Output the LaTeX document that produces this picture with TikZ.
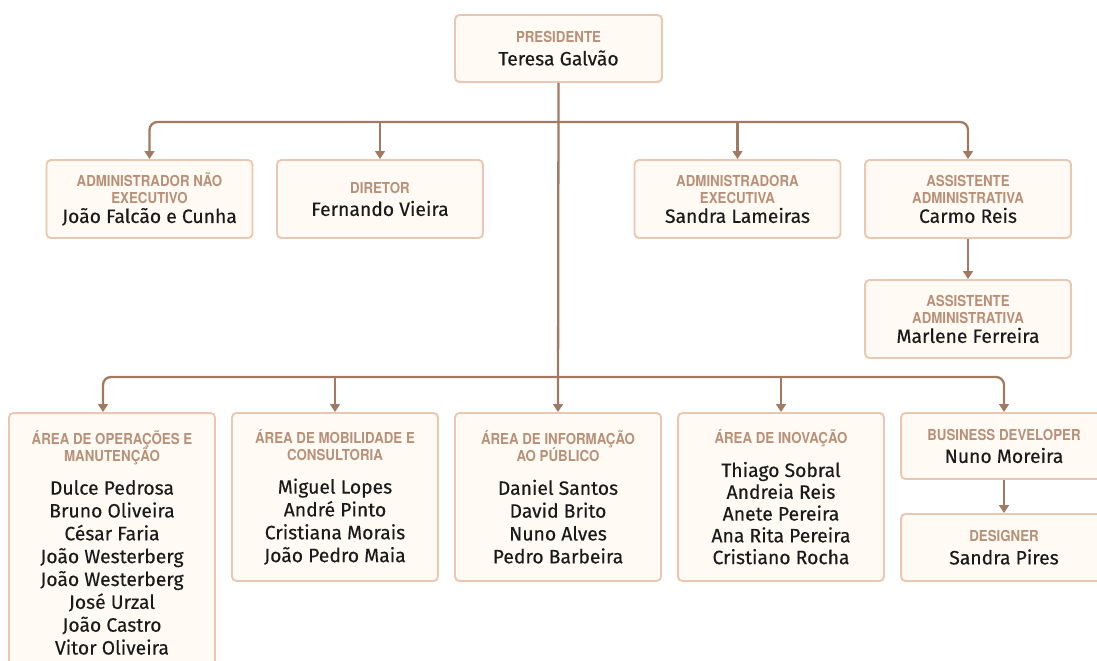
\documentclass[tikz,border=0pt]{standalone}
\usepackage{fontspec}
\setmainfont{Fira Sans}[FakeBold=0.3]
\newfontfamily\headfont{TeX Gyre Heros}[FakeStretch=0.88]
\usetikzlibrary{positioning,arrows.meta}
\definecolor{linebrown}{HTML}{A07A62}
\definecolor{boxedge}{HTML}{E8C8B2}
\definecolor{boxfill}{HTML}{FFFBF4}
\definecolor{headbrown}{HTML}{B89078}
\definecolor{nameink}{HTML}{1A1A1A}
\newcommand{\rolehd}{\headfont\bfseries\fontsize{8.6}{10}\selectfont\color{headbrown}}

\begin{document}
\begin{tikzpicture}[x=0.02cm, y=-0.02cm,
  >={Triangle[width=5.5pt,length=4.5pt]},
  rolebox/.style={draw=boxedge, line width=1.1pt, fill=boxfill, rounded corners=2.5pt,
    minimum width=4.12cm, align=center, text=nameink, inner sep=2pt,
    font=\fontsize{11}{13}\selectfont},
  link/.style={draw=linebrown, line width=1.3pt, ->, rounded corners=4.5pt}]
\useasboundingbox (0,0) rectangle (1097,660);
\clip (0,0) rectangle (1097,660);
\fill[white] (0,0) rectangle (1097,660);

% presidente
\node[rolebox, minimum height=1.34cm, minimum width=4.14cm] (pres) at (558.5,48.5) {{\rolehd PRESIDENTE}\\Teresa Galvão};

% primeiro nivel
\node[rolebox, minimum height=1.56cm] (admin) at (149.5,199) {{\rolehd ADMINISTRADOR NÃO}\\[-3.3pt]{\rolehd EXECUTIVO}\\[-1.8pt]João Falcão e Cunha};
\node[rolebox, minimum height=1.56cm] (dir) at (380,199) {{\rolehd DIRETOR}\\Fernando Vieira};
\node[rolebox, minimum height=1.56cm] (exec) at (737.5,199) {{\rolehd ADMINISTRADORA}\\[-3.3pt]{\rolehd EXECUTIVA}\\[-1.8pt]Sandra Lameiras};
\node[rolebox, minimum height=1.56cm] (asst) at (968,199) {{\rolehd ASSISTENTE}\\[-3.3pt]{\rolehd ADMINISTRATIVA}\\[-1.8pt]Carmo Reis};
\node[rolebox, minimum height=1.56cm] (asst2) at (968,319) {{\rolehd ASSISTENTE}\\[-3.3pt]{\rolehd ADMINISTRATIVA}\\[-1.8pt]Marlene Ferreira};

% areas
\node[rolebox, minimum height=5.18cm] (oper) at (112,542.5) {{\rolehd ÁREA DE OPERAÇÕES E}\\[-3.3pt]{\rolehd MANUTENÇÃO}\\[6pt]Dulce Pedrosa\\Bruno Oliveira\\César Faria\\João Westerberg\\João Westerberg\\José Urzal\\João Castro\\Vitor Oliveira};
\node[rolebox, minimum height=3.36cm] (mob) at (335,497) {{\rolehd ÁREA DE MOBILIDADE E}\\[-3.3pt]{\rolehd CONSULTORIA}\\[6pt]Miguel Lopes\\André Pinto\\Cristiana Morais\\João Pedro Maia};
\node[rolebox, minimum height=3.36cm] (info) at (558,497) {{\rolehd ÁREA DE INFORMAÇÃO}\\[-3.3pt]{\rolehd AO PÚBLICO}\\[6pt]Daniel Santos\\David Brito\\Nuno Alves\\Pedro Barbeira};
\node[rolebox, minimum height=3.36cm] (inov) at (781,497) {{\rolehd ÁREA DE INOVAÇÃO}\\[6pt]Thiago Sobral\\[-0.6pt]Andreia Reis\\[-0.6pt]Anete Pereira\\[-0.6pt]Ana Rita Pereira\\[-0.6pt]Cristiano Rocha};
\node[rolebox, minimum height=1.32cm] (dev) at (1004,446) {{\rolehd BUSINESS DEVELOPER}\\Nuno Moreira};
\node[rolebox, minimum height=1.34cm] (des) at (1004,547.5) {{\rolehd DESIGNER}\\Sandra Pires};

% ligacoes
\coordinate (topbar) at (558,122);
\coordinate (lowbar) at (558,377);
\draw[link] (pres.south) -- (info.north);
\draw[link, <->] (admin.north) |- (topbar) -| (asst.north);
\draw[link] (dir.north |- topbar) -- (dir.north);
\draw[link] (exec.north |- topbar) -- (exec.north);
\draw[link] (asst) -- (asst2);
\draw[link, <->] ([xshift=-0.18cm]oper.north) |- (lowbar) -| (dev.north);
\draw[link] (mob.north |- lowbar) -- (mob.north);
\draw[link] (inov.north |- lowbar) -- (inov.north);
\draw[link] (dev) -- (des);
\end{tikzpicture}
\end{document}
